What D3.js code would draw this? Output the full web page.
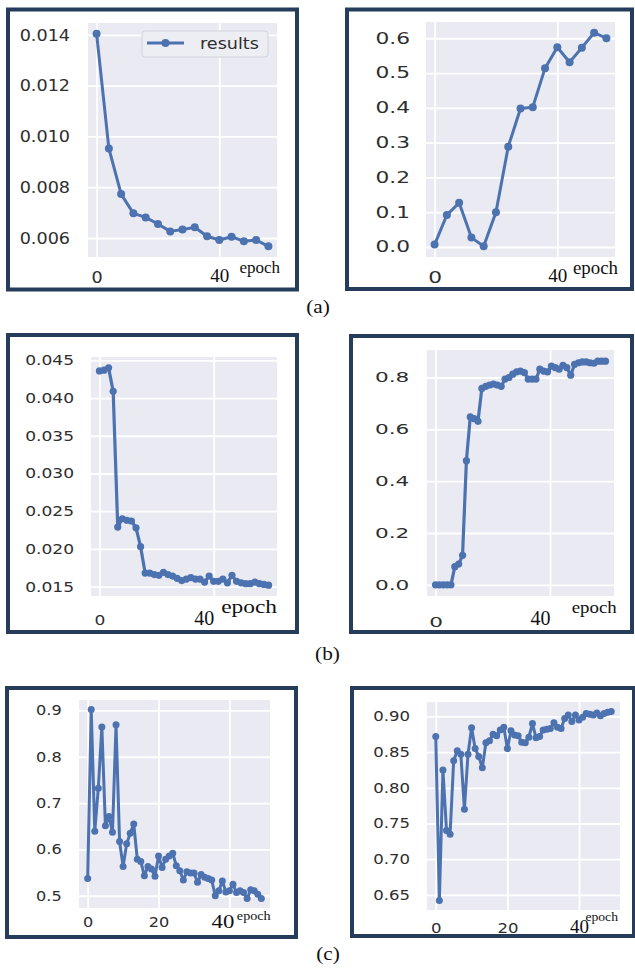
<!DOCTYPE html>
<html>
<head>
<meta charset="utf-8">
<script src="https://cdn.jsdelivr.net/npm/d3@7"></script>
<style>
  body { margin: 0; background: #fff; }
</style>
</head>
<body>
<svg id="chart" width="635" height="972"></svg>
<script>
// (a) logged every 4 epochs
var epochsA = [0, 4, 8, 12, 16, 20, 24, 28, 32, 36, 40, 44, 48, 52, 56];
var lossA = [0.01405, 0.00953, 0.00773, 0.00697, 0.00681, 0.00655, 0.00626, 0.00633, 0.00642, 0.00607, 0.00592, 0.00605, 0.00587, 0.00592, 0.00567];
var mapA = [0.007, 0.092, 0.127, 0.027, 0.002, 0.100, 0.288, 0.398, 0.402, 0.514, 0.574, 0.531, 0.573, 0.616, 0.600];

// (b)
var lossB = [0.0436, 0.0437, 0.0440, 0.0409, 0.0229, 0.0240, 0.0238, 0.0237, 0.0228, 0.0203,
             0.0168, 0.0168, 0.0166, 0.0165, 0.0169, 0.0166, 0.0164, 0.0161, 0.0158, 0.0160,
             0.0162, 0.0160, 0.0160, 0.0156, 0.0164, 0.0157, 0.0157, 0.0160, 0.0155, 0.0165,
             0.0157, 0.0155, 0.0154, 0.0154, 0.0156, 0.0154, 0.0153, 0.0152];
var mapB = [0, 0, 0, 0, 0, 0.070, 0.080, 0.114, 0.479, 0.648,
            0.641, 0.631, 0.758, 0.766, 0.771, 0.775, 0.771, 0.766, 0.794, 0.800,
            0.813, 0.822, 0.825, 0.819, 0.794, 0.794, 0.794, 0.832, 0.825, 0.822,
            0.844, 0.838, 0.832, 0.847, 0.838, 0.809, 0.851, 0.857, 0.860, 0.860,
            0.857, 0.855, 0.863, 0.863, 0.863];
var stepLossB = 1.6, stepMapB = 1.35;
var epochsLossB = d3.range(lossB.length).map(function(i) { return i * stepLossB; });
var epochsMapB = d3.range(mapB.length).map(function(i) { return i * stepMapB; });

// (c) one point per epoch
var lossC = [0.537, 0.902, 0.639, 0.732, 0.864, 0.651, 0.671, 0.637, 0.869, 0.617,
             0.563, 0.612, 0.635, 0.655, 0.579, 0.574, 0.543, 0.563, 0.558, 0.542,
             0.586, 0.561, 0.579, 0.586, 0.592, 0.565, 0.554, 0.534, 0.552, 0.549,
             0.549, 0.529, 0.546, 0.540, 0.537, 0.534, 0.500, 0.511, 0.532, 0.508,
             0.511, 0.525, 0.507, 0.511, 0.507, 0.494, 0.513, 0.511, 0.503, 0.494];
var mapC = [0.872, 0.642, 0.825, 0.740, 0.735, 0.838, 0.852, 0.847, 0.770, 0.847,
            0.884, 0.855, 0.844, 0.828, 0.863, 0.866, 0.875, 0.873, 0.881, 0.885,
            0.855, 0.880, 0.874, 0.873, 0.864, 0.863, 0.871, 0.890, 0.870, 0.872,
            0.881, 0.882, 0.883, 0.891, 0.885, 0.883, 0.897, 0.902, 0.893, 0.902,
            0.895, 0.899, 0.904, 0.903, 0.902, 0.905, 0.901, 0.904, 0.906, 0.907];
var epochsC = d3.range(lossC.length);

var yTicksLossA = [0.006, 0.008, 0.010, 0.012, 0.014];
var yTicksMapA = [0.0, 0.1, 0.2, 0.3, 0.4, 0.5, 0.6];
var yTicksLossB = [0.015, 0.020, 0.025, 0.030, 0.035, 0.040, 0.045];
var yTicksMapB = [0.0, 0.2, 0.4, 0.6, 0.8];
var yTicksLossC = [0.5, 0.6, 0.7, 0.8, 0.9];
var yTicksMapC = [0.65, 0.70, 0.75, 0.80, 0.85, 0.90];
var xTicksAB = [0, 40];
var xTicksC = [0, 20, 40];
var xTitle = "epoch";
var seriesName = "results";
var captions = ["(a)", "(b)", "(c)"];

var lineColor = "#4c72b0";
var frameColor = "#253d5b";
var tickColor = "#2e2e2e";
var sans = "DejaVu Sans, sans-serif";
var serif = "Liberation Serif, Times New Roman, serif";

var svg = d3.select("#chart");

var panels = [
  { frame: [6, 7.5, 299, 291.5], plot: [88, 23, 277, 257], xs: epochsA, ys: lossA, yTicks: yTicksLossA, fmt: ".3f", xTicks: xTicksAB,
    font: 16, sx: 1.1, yPad: 18, xLabY: 26, forty: { size: 19, sx: 1, dx: 0, y: 25 }, epoch: { size: 17, sx: 1, dx: 3, dy: 16 }, r: 4, lw: 3, legend: true },
  { frame: [345, 7.5, 634, 291], plot: [426, 22, 615, 257], xs: epochsA, ys: mapA, yTicks: yTicksMapA, fmt: ".1f", xTicks: xTicksAB,
    font: 15, sx: 1.45, yPad: 16, xLabY: 26, forty: { size: 19, sx: 1, dx: 0, y: 25 }, epoch: { size: 18, sx: 1.05, dx: 3, dy: 17 }, r: 4, lw: 3 },
  { frame: [6, 333, 299, 634], plot: [91, 357, 277, 596], xs: epochsLossB, ys: lossB, yTicks: yTicksLossB, fmt: ".3f", xTicks: xTicksAB,
    font: 14, sx: 1.22, yPad: 17, xLabY: 29, forty: { size: 20, sx: 1, dx: -10, y: 29 }, epoch: { size: 18, sx: 1.3, dx: 0, dy: 17 }, r: 3.6, lw: 3.2 },
  { frame: [349, 334, 634, 634], plot: [427, 350, 614, 596], xs: epochsMapB, ys: mapB, yTicks: yTicksMapB, fmt: ".1f", xTicks: xTicksAB,
    font: 14, sx: 1.54, yPad: 17.7, xLabY: 31, forty: { size: 20, sx: 1, dx: -10, y: 29 }, epoch: { size: 16.7, sx: 1.13, dx: 2.7, dy: 17 }, r: 3.6, lw: 3.2 },
  { frame: [5, 686, 298, 939], plot: [79, 700, 270, 908], xs: epochsC, ys: lossC, yTicks: yTicksLossC, fmt: ".1f", xTicks: xTicksC,
    font: 14, sx: 1.15, yPad: 17.3, xLabY: 19, forty: { size: 19, sx: 1.2, dx: -7, y: 20 }, epoch: { size: 13.5, sx: 1.05, dx: 0.7, dy: 12 }, r: 3.5, lw: 3 },
  { frame: [350, 686, 636, 938], plot: [427, 702, 620, 910], xs: epochsC, ys: mapC, yTicks: yTicksMapC, fmt: ".2f", xTicks: xTicksC,
    font: 14, sx: 1.18, yPad: 17, xLabY: 23, forty: { size: 19, sx: 1, dx: 0, y: 23 }, epoch: { size: 13, sx: 1.05, dx: -2, dy: 11 }, r: 3.5, lw: 3 }
];

panels.forEach(drawPanel);

function drawPanel(p) {
  var g = svg.append("g");
  var f = p.frame;
  g.append("rect")
      .attr("x", f[0] + 2).attr("y", f[1] + 2)
      .attr("width", f[2] - f[0] - 4).attr("height", f[3] - f[1] - 4)
      .attr("fill", "#fff").attr("stroke", frameColor).attr("stroke-width", 4);

  var x0 = p.plot[0], y0 = p.plot[1], x1 = p.plot[2], y1 = p.plot[3];

  // matplotlib-like 5% margins
  var xe = d3.extent(p.xs), xm = (xe[1] - xe[0]) * 0.05;
  var ye = d3.extent(p.ys), ym = (ye[1] - ye[0]) * 0.05;
  var x = d3.scaleLinear().domain([xe[0] - xm, xe[1] + xm]).range([x0, x1]);
  var y = d3.scaleLinear().domain([ye[0] - ym, ye[1] + ym]).range([y1, y0]);

  g.append("rect")
      .attr("x", x0).attr("y", y0)
      .attr("width", x1 - x0).attr("height", y1 - y0)
      .attr("fill", "#eaeaf2");

  // grid
  g.append("g")
      .attr("transform", "translate(0," + y1 + ")")
      .call(d3.axisBottom(x).tickValues(p.xTicks).tickSize(-(y1 - y0)).tickFormat(""))
      .call(function(s) {
        s.select(".domain").remove();
        s.selectAll("line").attr("stroke", "#fff").attr("stroke-width", 1.8);
      });
  g.append("g")
      .attr("transform", "translate(" + x0 + ",0)")
      .call(d3.axisLeft(y).tickValues(p.yTicks).tickSize(-(x1 - x0)).tickFormat(""))
      .call(function(s) {
        s.select(".domain").remove();
        s.selectAll("line").attr("stroke", "#fff").attr("stroke-width", 1.8);
      });

  // series
  var pts = p.xs.map(function(d, i) { return [d, p.ys[i]]; });
  var line = d3.line()
      .x(function(d) { return x(d[0]); })
      .y(function(d) { return y(d[1]); });
  g.append("path")
      .datum(pts)
      .attr("d", line)
      .attr("fill", "none")
      .attr("stroke", lineColor)
      .attr("stroke-width", p.lw)
      .attr("stroke-linejoin", "round");
  g.selectAll(".dot")
      .data(pts)
    .enter().append("circle")
      .attr("class", "dot")
      .attr("cx", function(d) { return x(d[0]); })
      .attr("cy", function(d) { return y(d[1]); })
      .attr("r", p.r)
      .attr("fill", lineColor);

  // y tick labels
  g.append("g")
      .attr("transform", "translate(" + x0 + ",0)")
      .call(d3.axisLeft(y).tickValues(p.yTicks).tickFormat(d3.format(p.fmt)).tickSize(0).tickPadding(p.yPad))
      .call(function(s) {
        s.select(".domain").remove();
        s.selectAll("text")
            .attr("font-family", sans)
            .attr("font-size", p.font)
            .attr("fill", tickColor)
            .attr("x", -p.yPad / p.sx)
            .attr("transform", "scale(" + p.sx + ",1)");
      });

  // x tick labels; the "40" was typeset in serif on the original
  g.append("g")
      .attr("transform", "translate(0," + y1 + ")")
      .call(d3.axisBottom(x).tickValues(p.xTicks).tickFormat(d3.format("d")).tickSize(0))
      .call(function(s) {
        s.select(".domain").remove();
        s.selectAll("text")
            .attr("dy", 0)
            .attr("fill", tickColor)
            .each(function(d) {
              var t = d3.select(this);
              if (d === 40) {
                t.attr("font-family", serif).attr("font-size", p.forty.size).attr("fill", "#111")
                  .attr("x", p.forty.dx / p.forty.sx).attr("y", p.forty.y)
                  .attr("transform", "scale(" + p.forty.sx + ",1)");
              } else {
                t.attr("font-family", sans).attr("font-size", p.font)
                  .attr("y", p.xLabY)
                  .attr("transform", "scale(" + p.sx + ",1)");
              }
            });
      });

  g.append("text")
      .attr("transform", "translate(" + (x1 + p.epoch.dx) + "," + (y1 + p.epoch.dy) + ") scale(" + p.epoch.sx + ",1)")
      .attr("text-anchor", "end")
      .attr("font-family", serif)
      .attr("font-size", p.epoch.size)
      .attr("fill", "#111")
      .text(xTitle);

  if (p.legend) {
    var lg = g.append("g").attr("transform", "translate(" + (x1 - 135) + "," + (y0 + 8) + ")");
    lg.append("rect")
        .attr("x", 0).attr("y", 0).attr("width", 126).attr("height", 26).attr("rx", 3)
        .attr("fill", "#ededf4").attr("stroke", "#d2d2da").attr("stroke-width", 1);
    lg.append("line")
        .attr("x1", 5).attr("x2", 42).attr("y1", 12).attr("y2", 12)
        .attr("stroke", lineColor).attr("stroke-width", p.lw);
    lg.append("circle").attr("cx", 23.5).attr("cy", 12).attr("r", p.r).attr("fill", lineColor);
    lg.append("text")
        .attr("transform", "translate(58,17.5) scale(" + p.sx + ",1)")
        .attr("font-family", sans).attr("font-size", p.font).attr("fill", tickColor)
        .text(seriesName);
  }
}

// sub-figure captions
var capPos = [[318, 312.5], [327.5, 660], [328, 959.5]];
svg.selectAll(".caption")
    .data(captions)
  .enter().append("text")
    .attr("class", "caption")
    .attr("transform", function(d, i) { return "translate(" + capPos[i][0] + "," + capPos[i][1] + ") scale(1.12,1)"; })
    .attr("text-anchor", "middle")
    .attr("font-family", serif)
    .attr("font-size", 19)
    .attr("fill", "#111")
    .text(function(d) { return d; });
</script>
</body>
</html>
